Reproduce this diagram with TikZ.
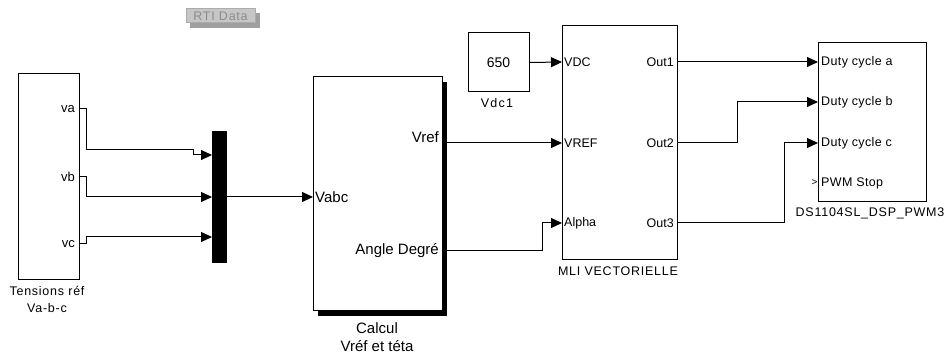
\documentclass[tikz,border=0pt]{standalone}
\usepackage{fontspec}
\setmainfont{Liberation Sans}
\newfontfamily\capfont[LetterSpace=6]{Liberation Sans}
\newfontfamily\widefont[LetterSpace=10]{Liberation Sans}
\newfontfamily\dsfont[LetterSpace=3]{Liberation Sans}
\usetikzlibrary{arrows.meta}
\begin{document}
\begin{tikzpicture}[x=1pt,y=-1pt,
  blk/.style={draw=black,line width=1pt,fill=white},
  wire/.style={line width=1pt,-{Triangle[length=11pt,width=10pt]}},
  port/.style={font=\fontsize{12.5}{14}\selectfont,inner sep=1pt},
  bigport/.style={font=\fontsize{15}{17}\selectfont,inner sep=1pt},
  dsport/.style={font=\dsfont\fontsize{12.5}{14}\selectfont,inner sep=1pt},
  blkcaption/.style={font=\capfont\fontsize{12.5}{17}\selectfont,align=center,inner sep=0pt}]
\useasboundingbox (0,0) rectangle (948,358);
% RTI Data
\fill[gray!75] (190,13) rectangle (260,28);
\node[draw=gray!65,fill=gray!45,line width=1pt,minimum width=69pt,minimum height=14pt,inner sep=0pt,
  text=gray!90,font=\capfont\fontsize{12.5}{14}\selectfont] (rti) at (220.5,16) {RTI Data};
% Tensions block
\node[blk,minimum width=61pt,minimum height=205pt,inner sep=0pt] (ten) at (48.5,176.5) {};
\node[port,font=\fontsize{13}{14}\selectfont,anchor=east] (va) at (76,109) {va};
\node[port,font=\fontsize{13}{14}\selectfont,anchor=east] (vb) at (76,177) {vb};
\node[port,font=\fontsize{13}{14}\selectfont,anchor=east] (vc) at (76,244) {vc};
\node[blkcaption] (tenl) at (47,299.5) {Tensions réf\\Va-b-c};
\coordinate (oa) at (79,109);
\coordinate (ob) at (79,177);
\coordinate (oc) at (79,244);
% Mux
\node[fill=black,minimum width=15pt,minimum height=132pt,inner sep=0pt] (mux) at (219.5,197) {};
\coordinate (ma) at (212,155);
\coordinate (mb) at (212,197);
\coordinate (mc) at (212,237);
% Calcul
\fill[black] (318,82) rectangle (447,316);
\node[blk,minimum width=129pt,minimum height=233pt,inner sep=0pt] (cal) at (377.5,193.5) {};
\node[bigport,anchor=west] (vabc) at (314,197) {Vabc};
\node[bigport,anchor=east] (vref) at (440,137) {Vref};
\node[bigport,anchor=east] (ang) at (440,251) {Angle Degré};
\node[align=center,inner sep=0pt,font=\fontsize{15}{18}\selectfont] (call) at (377,337) {Calcul\\Vréf et téta};
\coordinate (ci) at (313,197);
\coordinate (cr) at (447,143);
\coordinate (cg) at (447,251);
% Vdc1
\node[blk,minimum width=61pt,minimum height=59pt,inner sep=0pt,font=\fontsize{14}{15}\selectfont] (vdc) at (498.5,62.5) {650};
\node[inner sep=0pt,font=\widefont\fontsize{12.5}{14}\selectfont] (vdcl) at (497,103) {Vdc1};
% MLI
\node[blk,minimum width=115pt,minimum height=234pt,inner sep=0pt] (mli) at (619.5,143) {};
\node[port,anchor=west] (pvdc) at (563,62) {VDC};
\node[port,anchor=west] (pvref) at (563,143) {VREF};
\node[port,anchor=west] (palpha) at (563,223) {Alpha};
\node[port,anchor=east] (o1) at (675,62) {Out1};
\node[port,anchor=east] (o2) at (675,143) {Out2};
\node[port,anchor=east] (o3) at (675,223) {Out3};
\node[blkcaption] (mlil) at (618,271) {MLI VECTORIELLE};
\coordinate (ivdc) at (562,62);
\coordinate (ivref) at (562,143);
\coordinate (ialpha) at (562,223);
\coordinate (oo1) at (677,62);
\coordinate (oo2) at (677,143);
\coordinate (oo3) at (677,223);
% DS block
\node[blk,minimum width=108pt,minimum height=159pt,inner sep=0pt] (ds) at (872,122.5) {};
\node[dsport,anchor=west] (da) at (820,62) {Duty cycle a};
\node[dsport,anchor=west] (db) at (820,102) {Duty cycle b};
\node[dsport,anchor=west] (dc) at (820,143) {Duty cycle c};
\node[dsport,anchor=west] (ps) at (820,183) {PWM Stop};
\node[inner sep=0pt,font=\fontsize{10}{10}\selectfont] (gt) at (814.5,183) {>};
\node[blkcaption] (dsl) at (870,213) {DS1104SL\_DSP\_PWM3};
\coordinate (ia) at (818,62);
\coordinate (ib) at (818,102);
\coordinate (ic) at (818,143);
% wires
\draw[wire] (oa) -- ++(7,0) |- (193,150) |- (ma);
\draw[wire] (ob) -- ++(7,0) |- (mb);
\draw[wire] (oc) -- ++(7,0) |- (mc);
\draw[wire] (mux.east |- mb) -- (ci);
\draw[wire] (cr) -- (ivref);
\draw[wire] (cg) -| (542,223) -- (ialpha);
\draw[wire] (vdc.east) -- (ivdc);
\draw[wire] (oo1) -- (ia);
\draw[wire] (oo2) -| (737,102) -- (ib);
\draw[wire] (oo3) -| (784,143) -- (ic);
\end{tikzpicture}
\end{document}
